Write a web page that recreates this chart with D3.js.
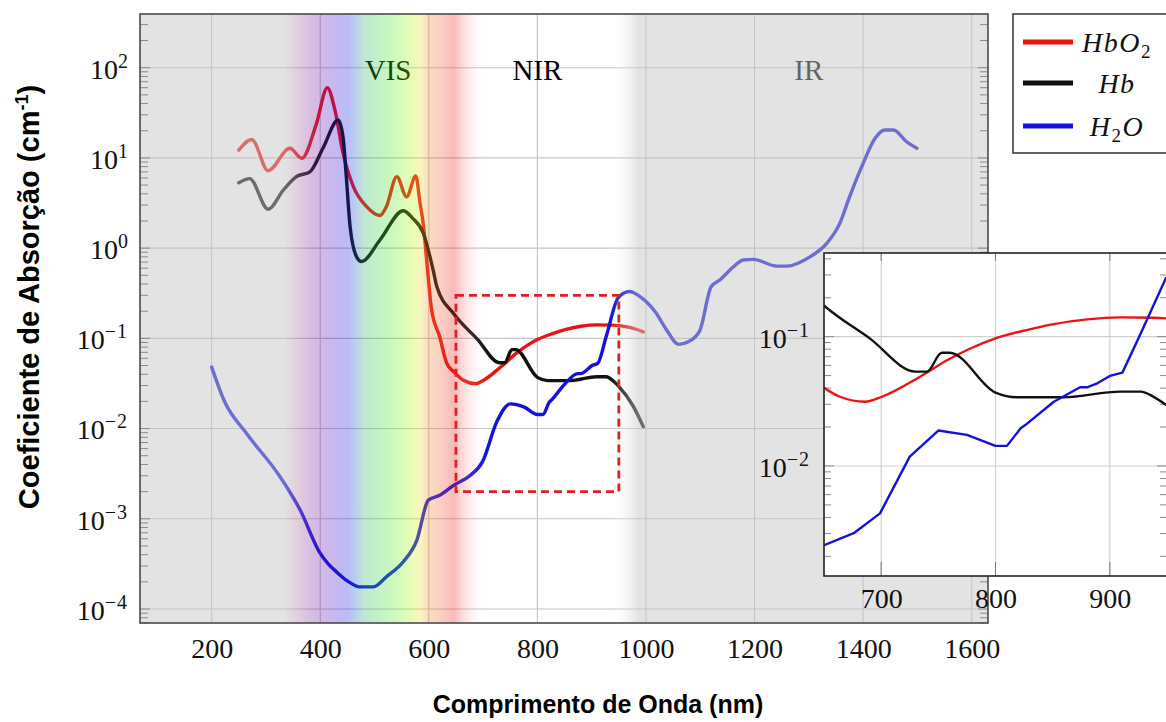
<!DOCTYPE html>
<html><head><meta charset="utf-8">
<script src="https://cdn.jsdelivr.net/npm/d3@7"></script>
<style>body{margin:0;background:#fff} svg{display:block}</style>
</head><body><svg id="c" width="1166" height="722"></svg>
<script>
// ---------------- DATA ----------------
const seriesNames = ["HbO2", "Hb", "H2O"];
const hbo2Wavelength = [250,274,304,344,366,393,413,427,442,461,485,510,522,541,559,576,584,590,596,605,620,633,647,664,686,701,734,758,778,800,828,851,880,909,938,970,995];
const hbo2Values     = [12.2,16,7.2,12.8,9.9,24,60,34,11.3,4.8,2.9,2.3,2.9,6.2,3.7,6.3,3.1,1.8,0.74,0.21,0.104,0.053,0.042,0.0343,0.0314,0.0344,0.049,0.066,0.081,0.097,0.113,0.125,0.136,0.141,0.140,0.132,0.118];
const hbWavelength = [250,270,304,332,356,381,405,433,442,448,455,467,476,510,553,570,590,608,615,646,690,730,740,753,760,800,819,860,909,927,938,949,977,995];
const hbValues     = [5.3,5.9,2.7,4.4,6.2,7.0,12.8,26.3,17,6.2,1.73,0.80,0.71,1.23,2.6,2.15,1.46,0.57,0.37,0.187,0.097,0.0537,0.0537,0.075,0.075,0.0369,0.034,0.034,0.0376,0.0376,0.0344,0.0297,0.0175,0.0105];
const h2oWavelength = [200,224,264,326,363,400,415,430,450,473,498,522,553,578,599,620,647,676,699,725,750,775,800,810,822,826,851,874,880,889,900,911,927,949,970,989,1017,1038,1060,1078,1099,1120,1136,1161,1179,1198,1241,1259,1302,1333,1357,1375,1400,1422,1440,1456,1480,1499];
const h2oValues     = [0.048,0.0198,0.00886,0.00292,0.00125,0.000413,0.000315,0.000258,0.000205,0.000176,0.000176,0.000228,0.000334,0.00058,0.00161,0.00182,0.00238,0.00302,0.0043,0.0118,0.0188,0.0174,0.0143,0.0143,0.0196,0.0207,0.0314,0.0406,0.0406,0.0436,0.0497,0.0527,0.106,0.283,0.33,0.29,0.197,0.124,0.0857,0.0916,0.121,0.373,0.443,0.62,0.738,0.75,0.632,0.632,0.80,1.13,1.88,3.7,8.7,16.5,20.4,20.4,15.1,12.8];
const xTicksMain = [200,400,600,800,1000,1200,1400,1600];
const yDecadesMain = [-4,-3,-2,-1,0,1,2];
const xTicksInset = [700,800,900];
const yDecadesInset = [-2,-1];
const regionLabels = ["VIS","NIR","IR"];
const regionCenters = [525,800,1300];
const zoomBoxWavelength = [650,950];
const zoomBoxValues = [0.002,0.3];

// ---------------- LAYOUT ----------------
const svg = d3.select("#c");
const M = {l:140, r:988, t:14, b:623};
const I = {l:824, r:1167, t:253, b:576};
const x = d3.scaleLinear().domain([68,1630]).range([M.l,M.r]);
const y = d3.scaleLog().domain([Math.pow(10,-4.155),Math.pow(10,2.595)]).range([M.b,M.t]);
const xi = d3.scaleLinear().domain([650,950]).range([I.l,I.r]);
const yi = d3.scaleLog().domain([Math.pow(10,-2.851),Math.pow(10,-0.353)]).range([I.b,I.t]);
const colors = ["#ec1212","#111111","#1212dc"];
const insetCurves = [d3.curveMonotoneX, d3.curveMonotoneX, d3.curveLinear];
const serif = "'Liberation Serif','Times New Roman',serif";
const sans = "'Liberation Sans',Arial,sans-serif";

const series = seriesNames.map((n,i)=>({
  name:n, color:colors[i], icurve:insetCurves[i],
  pts: [hbo2Wavelength,hbWavelength,h2oWavelength][i].map((w,j)=>[w,[hbo2Values,hbValues,h2oValues][i][j]])
}));

const defs = svg.append("defs");
defs.append("clipPath").attr("id","clipMain").append("rect")
  .attr("x",M.l).attr("y",M.t).attr("width",M.r-M.l).attr("height",M.b-M.t);
defs.append("clipPath").attr("id","clipInset").append("rect")
  .attr("x",I.l).attr("y",I.t).attr("width",I.r-I.l).attr("height",I.b-I.t);

const bandStops = [
  [68,[227,227,227],0.5],[335,[227,227,227],0.5],[360,[226,206,222],0.4],
  [395,[212,186,228],0.3],[425,[200,183,238],0.3],[450,[187,187,248],0.3],
  [466,[187,207,240],0.3],[482,[191,232,210],0.3],[515,[196,244,196],0.3],
  [548,[212,252,186],0.3],[572,[236,252,182],0.3],[586,[250,244,190],0.3],
  [598,[250,222,190],0.3],[625,[250,205,195],0.3],[646,[250,186,186],0.3],
  [652,[252,198,198],0.3],[705,[255,255,255],0],[935,[255,255,255],0],
  [985,[227,227,227],0.5],[1630,[227,227,227],0.5]
];
const grad = defs.append("linearGradient").attr("id","band")
  .attr("gradientUnits","userSpaceOnUse").attr("x1",M.l).attr("x2",M.r).attr("y1",0).attr("y2",0);
bandStops.forEach(([nm,B,a])=>{
  let G = a>0 ? B.map(c=>Math.max(0,Math.min(255,Math.round((c-(1-a)*255)/a)))) : [255,255,255];
  grad.append("stop").attr("offset",(x(nm)-M.l)/(M.r-M.l))
    .attr("stop-color",`rgb(${G.join(",")})`).attr("stop-opacity",a);
});

// ---------------- MAIN PLOT ----------------
const main = svg.append("g");
main.append("rect").attr("x",M.l).attr("y",M.t).attr("width",M.r-M.l).attr("height",M.b-M.t).attr("fill","#fff");
main.append("g").selectAll("line").data(xTicksMain).join("line")
  .attr("x1",d=>x(d)).attr("x2",d=>x(d)).attr("y1",M.t).attr("y2",M.b)
  .attr("stroke","#c4c4c4").attr("stroke-width",1.1);
main.append("g").selectAll("line").data(yDecadesMain).join("line")
  .attr("y1",d=>y(Math.pow(10,d))).attr("y2",d=>y(Math.pow(10,d))).attr("x1",M.l).attr("x2",M.r)
  .attr("stroke","#c4c4c4").attr("stroke-width",1.1);

const lineMain = d3.line().x(p=>x(p[0])).y(p=>y(p[1])).curve(d3.curveMonotoneX);
main.append("g").attr("clip-path","url(#clipMain)").selectAll("path").data(series).join("path")
  .attr("d",d=>lineMain(d.pts))
  .attr("fill","none").attr("stroke",d=>d.color)
  .attr("stroke-width",3.4).attr("stroke-linejoin","round").attr("stroke-linecap","round");

main.append("g").selectAll("text").data(regionLabels).join("text")
  .attr("x",(d,i)=>x(regionCenters[i])).attr("y",80).attr("text-anchor","middle")
  .attr("font-family",serif).attr("font-size",29).attr("fill","#000").text(d=>d);

main.append("rect").attr("x",M.l).attr("y",M.t).attr("width",M.r-M.l).attr("height",M.b-M.t)
  .attr("fill","url(#band)");

function logTicks(scale){
  const [a,b] = scale.domain().map(Math.log10);
  const out=[];
  for(let d=Math.floor(a); d<=Math.ceil(b); d++){
    for(let m=1;m<=9;m++){const v=m*Math.pow(10,d); const lv=Math.log10(v); if(lv>=a&&lv<=b) out.push({v, major:m===1});}
  }
  return out;
}
const mt = main.append("g");
logTicks(y).forEach(t=>{
  const yy=y(t.v), L=t.major?10:8;
  mt.append("line").attr("x1",M.l).attr("x2",M.l+L).attr("y1",yy).attr("y2",yy).attr("stroke","#8a8a8a").attr("stroke-width",1);
  mt.append("line").attr("x1",M.r-L).attr("x2",M.r).attr("y1",yy).attr("y2",yy).attr("stroke","#8a8a8a").attr("stroke-width",1);
});
main.append("rect").attr("x",M.l).attr("y",M.t).attr("width",M.r-M.l).attr("height",M.b-M.t)
  .attr("fill","none").attr("stroke","#4a4a4a").attr("stroke-width",1.6);

main.append("rect")
  .attr("x",x(zoomBoxWavelength[0])).attr("y",y(zoomBoxValues[1]))
  .attr("width",x(zoomBoxWavelength[1])-x(zoomBoxWavelength[0]))
  .attr("height",y(zoomBoxValues[0])-y(zoomBoxValues[1]))
  .attr("fill","none").attr("stroke","#e02020").attr("stroke-width",2.8).attr("stroke-dasharray","8,5");

const xAx = main.append("g").attr("transform",`translate(0,${M.b})`)
  .call(d3.axisBottom(x).tickValues(xTicksMain).tickSize(0).tickPadding(15).tickFormat(d3.format("d")));
xAx.select(".domain").remove();
xAx.selectAll("text").attr("font-family",serif).attr("font-size",28).attr("fill","#111");

function expLabels(g){
  g.select(".domain").remove();
  g.selectAll(".tick text").each(function(d){
    const t=d3.select(this); const e=Math.round(Math.log10(d));
    t.text(null).attr("dy","0.37em").attr("font-family",serif).attr("font-size",28).attr("fill","#111");
    t.append("tspan").text("10");
    t.append("tspan").attr("dy",-11).attr("font-size",20).attr("letter-spacing",e<0?1:0)
      .text(e<0?"\u2212"+(-e):String(e));
  });
}
main.append("g").attr("transform",`translate(${M.l},0)`)
  .call(d3.axisLeft(y).tickValues(yDecadesMain.map(d=>Math.pow(10,d))).tickSize(0).tickPadding(12))
  .call(expLabels);

// ---------------- INSET ----------------
const ins = svg.append("g");
ins.append("rect").attr("x",I.l).attr("y",I.t).attr("width",I.r-I.l).attr("height",I.b-I.t).attr("fill","#fff");
ins.append("g").selectAll("line").data(xTicksInset).join("line")
  .attr("x1",d=>xi(d)).attr("x2",d=>xi(d)).attr("y1",I.t).attr("y2",I.b).attr("stroke","#cfcfcf").attr("stroke-width",1.1);
ins.append("g").selectAll("line").data(yDecadesInset).join("line")
  .attr("y1",d=>yi(Math.pow(10,d))).attr("y2",d=>yi(Math.pow(10,d))).attr("x1",I.l).attr("x2",I.r)
  .attr("stroke","#cfcfcf").attr("stroke-width",1.1);
const it = ins.append("g");
logTicks(yi).forEach(t=>{
  const yy=yi(t.v), L=t.major?10:7;
  it.append("line").attr("x1",I.l).attr("x2",I.l+L).attr("y1",yy).attr("y2",yy).attr("stroke","#8a8a8a");
  it.append("line").attr("x1",I.r-L).attr("x2",I.r).attr("y1",yy).attr("y2",yy).attr("stroke","#8a8a8a");
});
xTicksInset.forEach(v=>{
  it.append("line").attr("x1",xi(v)).attr("x2",xi(v)).attr("y1",I.t).attr("y2",I.t+8).attr("stroke","#777");
  it.append("line").attr("x1",xi(v)).attr("x2",xi(v)).attr("y1",I.b-14).attr("y2",I.b).attr("stroke","#777");
});
ins.append("g").attr("clip-path","url(#clipInset)").selectAll("path").data(series).join("path")
  .attr("d",d=>d3.line().x(p=>xi(p[0])).y(p=>yi(p[1])).curve(d.icurve)(d.pts))
  .attr("fill","none").attr("stroke",d=>d.color)
  .attr("stroke-width",2.4).attr("stroke-linejoin","round");
ins.append("rect").attr("x",I.l).attr("y",I.t).attr("width",I.r-I.l).attr("height",I.b-I.t)
  .attr("fill","none").attr("stroke","#222").attr("stroke-width",1.6);
const xAxI = ins.append("g").attr("transform",`translate(0,${I.b})`)
  .call(d3.axisBottom(xi).tickValues(xTicksInset).tickSize(0).tickPadding(12).tickFormat(d3.format("d")));
xAxI.select(".domain").remove();
xAxI.selectAll("text").attr("font-family",serif).attr("font-size",28).attr("fill","#111");
ins.append("g").attr("transform",`translate(${I.l},0)`)
  .call(d3.axisLeft(yi).tickValues(yDecadesInset.map(d=>Math.pow(10,d))).tickSize(0).tickPadding(14))
  .call(expLabels);

// ---------------- LEGEND ----------------
const leg = svg.append("g");
leg.append("rect").attr("x",1013).attr("y",14).attr("width",170).attr("height",139)
  .attr("fill","#fff").attr("stroke","#333").attr("stroke-width",1.5);
const legY=[42,83,126];
series.forEach((s,i)=>{
  leg.append("line").attr("x1",1023).attr("x2",1073).attr("y1",legY[i]).attr("y2",legY[i])
    .attr("stroke",s.color).attr("stroke-width",5);
});
const legText = [[["HbO",0,false],["2",6,true]],[["Hb",0,false]],[["H",0,false],["2",6,true],["O",-6,false]]];
legText.forEach((parts,i)=>{
  const t=leg.append("text").attr("x",1117).attr("y",legY[i]+10).attr("text-anchor","middle")
    .attr("font-family",serif).attr("font-size",28).attr("fill","#111").attr("letter-spacing",1.5);
  parts.forEach(([s,dy,sub])=>{
    t.append("tspan").attr("dy",dy).attr("font-style",sub?"normal":"italic").attr("font-size",sub?19:28).text(s);
  });
});

// ---------------- TITLES ----------------
svg.append("text").attr("x",598).attr("y",713).attr("text-anchor","middle")
  .attr("font-family",sans).attr("font-weight","bold").attr("font-size",25).attr("fill","#000")
  .text("Comprimento de Onda (nm)");
const yt = svg.append("text").attr("transform","translate(39,297) rotate(-90)").attr("text-anchor","middle")
  .attr("font-family",sans).attr("font-weight","bold").attr("font-size",29).attr("fill","#000");
yt.append("tspan").text("Coeficiente de Absorção (cm");
yt.append("tspan").attr("dy",-11).attr("font-size",18).text("-1");
yt.append("tspan").attr("dy",11).text(")");
</script></body></html>
